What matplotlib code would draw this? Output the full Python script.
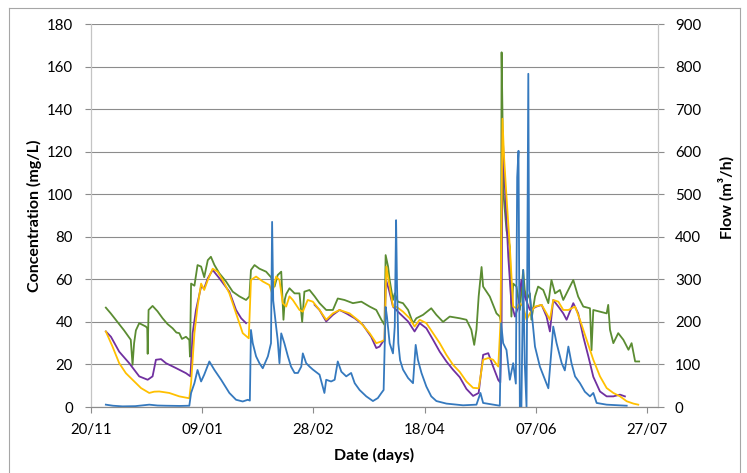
import matplotlib
matplotlib.use('Agg')
import matplotlib.pyplot as plt
import matplotlib.dates as mdates
from matplotlib.lines import Line2D
import numpy as np
import pandas as pd

# day offsets from 20/11 (leap-year season)
START = pd.Timestamp('2011-11-20')

green_days = [6.8, 9, 12, 15, 18, 18.8, 19.5, 20.3, 21.8, 24.8, 25.4, 25.6, 26, 27.8, 30, 32.3, 34.5,
              36.8, 38.5, 39.8, 41, 42.8, 44.3, 44.6, 45.1, 46.6, 48, 49.6, 51, 52.6, 54, 55.6, 57.8,
              60.8, 63.8, 66.8, 69.8, 71.3, 72, 73.6, 75.8, 78.8, 81, 82.6, 84, 85.6, 86.6, 87.2,
              87.8, 89.3, 91.6, 93.8, 95, 96, 98.3, 100.6, 102.8, 105.8, 108.8, 111, 114, 117.8,
              121.6, 125.3, 128.3, 130.6, 132, 132.5, 133.6, 134.3, 135.8, 136.6, 138, 140.3, 142.6,
              144.8, 146.3, 149.3, 153, 155.3, 158.3, 161.3, 165.8, 168.8, 171, 172.3, 173.3, 174.3,
              175.6, 176.3, 179.3, 182.3, 183.8, 184.3, 184.6, 185, 185.3, 186.8, 188.3, 189, 189.8,
              191.3, 192.8, 194.3, 195, 195.8, 197.3, 198, 199.6, 201, 203.3, 205.6, 207, 208.6,
              210.8, 212.3, 213.8, 216.8, 219, 221.3, 224.3, 225, 225.8, 228.8, 231.8, 232.5, 233.3,
              234.8, 237, 239.3, 241.6, 243, 244.6, 246.4]
green_vals = [46.7, 44, 40, 36, 31.6, 19.8, 30, 36, 39.4, 37.8, 37, 25, 45.6, 47.5, 45, 41.7, 39,
              37, 35, 34.7, 32, 33, 31.5, 23.7, 58, 57, 66.7, 66, 61, 69, 70.6, 66.7, 62.8,
              59, 54.2, 52, 50.3, 52, 64.4, 66.7, 65, 63.6, 61, 56.6, 62, 63.6, 41, 50.5,
              53, 55.8, 53.4, 53.4, 40, 54.2, 55, 52, 48.8, 45.6, 45.6, 51, 50.3, 48.8,
              49.5, 47.2, 45.6, 41, 38.6, 71.4, 66, 59.7, 50.3, 53.4, 49.5, 48.8, 45.6,
              39.4, 41.7, 43.3, 46.4, 43.3, 40, 42.5, 41.7, 41, 36.3, 29.2, 36.3, 52,
              65.8, 56.6, 51.9, 44, 42.5, 40, 166.7, 137.8, 101.9, 83, 75.3, 42.5, 58,
              56.6, 45.6, 64.4, 55, 50.3, 53.4, 41, 51.9, 56.6, 55, 48.8, 59.7, 53.4,
              55, 50.3, 53.4, 59.7, 51.9, 47.2, 46.4, 26.7, 45.6, 44.8, 44, 48, 36.3,
              30, 34.7, 31.6, 26.9, 30, 21.4, 21.4]

purple_days = [6.8, 9.1, 12.8, 17.3, 21.8, 25.6, 27.8, 29.3, 31.6, 33.8, 38.3, 42.8, 44.8, 45.8,
               47.3, 49.6, 51, 52.6, 54.8, 57.8, 62.3, 65.3, 67.6, 69.8, 70.5,
               100.6, 102.8, 105.8, 108.8, 111.8, 114.8, 118.6, 122.3, 126, 128.3, 129.8, 131.3,
               132, 132.6, 134, 135.8, 138.8, 142.6, 145.5, 147.8, 150.8, 153.8, 156.8, 159.8,
               162.8, 165.8, 168.8, 171.8, 174.3, 176.3, 178.6, 180.8, 183.1, 184, 184.6, 185,
               185.8, 187.6, 189, 190.6, 192, 193.5, 195, 197.3, 200.3, 202.6, 204.8, 206.3,
               207.8, 210.1, 212.3, 213.8, 216.8, 219, 221.3, 223.6, 225.8, 228.8, 231.8, 234.8,
               237.8, 240]
purple_vals = [35.5, 33, 26, 20.6, 14.4, 12.8, 14.4, 22.2, 22.5, 20.6, 18.3, 15.9, 14.4, 34.7,
               45.6, 56.6, 55.8, 60.5, 64.4, 60.5, 54.2, 45.6, 41.7, 39.4, np.nan,
               48, 45.6, 40.2, 43.3, 45.6, 44, 41.7, 38.6, 33, 27.7, 28.4, 30.8,
               31, 60, 55, 47.2, 44, 40.2, 35.5, 39.4, 37, 31.6, 26, 21.4,
               17.5, 14, 8.5, 5.2, 6.6, 24.5, 25.3, 19, 12.7, 11.5, 40, 130,
               110, 70.6, 48.8, 42.5, 47, 59.7, 52, 45.6, 47.2, 48, 42.5, 35.5,
               50.3, 47.2, 44, 41, 48.8, 44, 33, 23.7, 14.2, 7.3, 5, 5,
               5.8, 5]

yellow_days = [6.8, 9.8, 12.8, 15.8, 18.8, 22.6, 26.3, 28.5, 30.8, 35.3, 39.8, 44.3, 45.1, 46.6,
               48, 49.6, 51, 52.6, 54.8, 57, 59.3, 62.3, 65.3, 68.3, 71, 72, 74.3, 77.3, 80.3,
               81.5, 83.3, 84.8, 86.3, 87.8, 89.3, 90.8, 93.8, 95.3, 97.5, 99.8, 102.8, 105.8,
               108.8, 111.8, 116.3, 120.8, 125.3, 128.3, 130.6, 132, 132.8, 134.3, 135.8, 137.5,
               140.3, 143.3, 145.5, 147.8, 150.8, 153.8, 156.8, 159.8, 162.8, 165.8, 168.8, 171.8,
               174.3, 176.3, 178.6, 180.8, 183.1, 184.1, 185, 185.7, 186.8, 188.3, 189.8, 191.3,
               192.8, 194.3, 195.8, 197.3, 199.6, 202.6, 204.8, 206.3, 207.8, 210.1, 212.3, 214.6,
               217.6, 219.8, 222.8, 225.8, 228.8, 231.8, 234.8, 237.8, 240.8, 243.8, 246]
yellow_vals = [35.5, 28.4, 20.6, 15.9, 12.8, 8.9, 6.6, 7.2, 7.3, 6.6, 5, 4.1, 11.3, 34.7,
               47.2, 58, 55, 59.7, 65, 63.6, 59.7, 53.4, 44, 34.7, 32.3, 59.7, 61.3, 59, 57.3,
               53.4, 61.3, 59.7, 48.8, 47.2, 52, 50.3, 45.6, 44.8, 50.3, 49.5, 45.6, 41,
               44, 45.6, 44, 40.2, 34.7, 30, 30.8, 31.6, 66, 56.6, 47.2, 47,
               44.8, 41.7, 37.8, 41, 39.4, 34.7, 30, 24.5, 19.8, 16.5, 12, 9,
               8.8, 22.2, 23, 22.2, 19, 39.4, 135.5, 117.5, 98.8, 75.3, 47.2, 46.4,
               48.8, 47.2, 41, 44, 47.2, 48, 44, 41, 50.3, 49.5, 45.6, 45.6,
               47.2, 41, 31.6, 22.2, 14.4, 8.9, 6.6, 5, 2.7, 1.6, 1.1]

flow_days = [6.8, 10, 14.3, 20, 26.3, 30, 33.8, 40, 44.3, 45.1, 46.6, 48, 49.6, 51, 53.3, 55.6,
             58.6, 62.3, 65.3, 68.3, 70.6, 71.5, 72, 72.8, 74.3, 75.8, 77.3, 79.6, 81, 81.5, 82,
             83.3, 84, 84.8, 85.6, 87, 88.6, 90, 91.6, 93.1, 94.6, 95.3, 96.8, 98.3, 99.8, 102.8,
             105, 105.8, 108, 109.6, 111, 112.6, 114.8, 117, 118.6, 120.8, 123.8, 126.8, 129,
             130.6, 131.6, 132.5, 133.1, 134.3, 135.8, 136.6, 137.2, 137.6, 138.2, 139, 140.3,
             142.6, 144.8, 146, 147, 148.6, 150.8, 153, 155.3, 159.8, 167.3, 173.3, 175.1, 176.3,
             183.8, 184.4, 185.3, 186.8, 188.3, 189.8, 191, 191.6, 192.2, 192.8, 193.5, 194.3,
             195, 195.8, 196.6, 197, 198, 199.6, 201.8, 204.1, 205.6, 207, 207.8, 209.3, 211.6,
             213, 214.6, 216, 217.6, 219.8, 222, 224.3, 225.8, 227.3, 231.8, 240.8]
flow_vals = [5.5, 3, 1.5, 2, 5.5, 3.5, 3, 2.5, 3, 33, 56, 87, 60, 76, 107, 87,
             64, 33, 17, 13, 17, 15, 181, 150, 119, 103, 91, 119, 150, 435, 250,
             189, 158, 103, 173, 150, 119, 95, 80, 80, 95, 126, 103, 95, 88, 76,
             33, 64, 60, 64, 107, 83, 72, 80, 56, 40, 25, 14, 21,
             33, 40, 235, 212, 150, 126, 189, 439, 290, 150, 110, 88,
             68, 56, 146, 111, 80, 48, 25, 14, 8, 4, 5.5, 33, 9.5,
             3, 197, 150, 134, 64, 103, 55, 540, 602, 0, 0, 322,
             103, 0, 783, 275, 228, 142, 95, 64, 44, 134, 189, 150, 103,
             86, 142, 103, 72, 56, 36, 25, 33, 9.5, 5.5, 3]

conc_ticks = list(range(0, 181, 20))
flow_ticks = list(range(0, 901, 100))
date_ticks = [0, 50, 100, 150, 200, 250]


def to_dates(days):
    return START + pd.to_timedelta(np.asarray(days, dtype=float), unit='D')


plt.rcParams['font.family'] = ['Lato', 'DejaVu Sans']
GRID = '#8c8c8c'
AXIS = '#c4c4c4'

fig = plt.figure(figsize=(7.47, 4.73), dpi=100)
W, H = 747, 473
ax = fig.add_axes([90.7 / W, 1 - 407 / H, (658.3 - 90.7) / W, (407 - 24) / H])
ax2 = ax.twinx()

ax.plot(to_dates(green_days), green_vals, color='#5B8C32', lw=1.3, zorder=2)
ax.plot(to_dates(purple_days), purple_vals, color='#7030A0', lw=1.3, zorder=3)
ax.plot(to_dates(yellow_days), yellow_vals, color='#FFC000', lw=1.3, zorder=4)
ax2.plot(to_dates(flow_days), flow_vals, color='#3579BE', lw=1.3)

ax.set_xlim(START, START + pd.Timedelta(days=255))
ax.set_ylim(0, 180)
ax2.set_ylim(0, 900)
ax.set_yticks(conc_ticks)
ax2.set_yticks(flow_ticks)
ax.set_xticks(to_dates(date_ticks))
ax.xaxis.set_major_formatter(mdates.DateFormatter('%d/%m'))

ax.yaxis.grid(True, color=GRID, lw=0.8)
ax.set_axisbelow(True)
for a in (ax, ax2):
    a.spines['top'].set_visible(False)
    a.spines['left'].set_color(AXIS)
    a.spines['right'].set_color(AXIS)
    a.spines['bottom'].set_color(GRID)

ax.tick_params(axis='y', direction='out', length=4.3, color=GRID, labelsize=10.8, pad=8.5,
               labelcolor='black')
ax2.tick_params(axis='y', direction='out', length=4.0, color=GRID, labelsize=10.8, pad=8,
                labelcolor='black')
ax.tick_params(axis='x', direction='out', length=4.3, color=GRID, labelsize=10.8, pad=7)

fig.text(34.7 / W, 1 - 216 / H, 'Concentration (mg/L)', rotation=90, fontsize=11.5,
         fontweight='bold', ha='center', va='center')
fig.text(726 / W, 1 - 197 / H, 'Flow (m\u00b3/h)', rotation=90, fontsize=11.5,
         fontweight='bold', ha='center', va='center')
fig.text(374.5 / W, 1 - 455 / H, 'Date (days)', fontsize=11.5, fontweight='bold',
         ha='center', va='center')

# chart area frame
for xs, ys in [((9.3, 9.3), (0, 7.7)), ((9.3, 739.5), (7.7, 7.7)),
               ((739.5, 739.5), (7.7, 0)), ((2.7, 2.7), (0, 473))]:
    fig.add_artist(Line2D([x / W for x in xs], [1 - y / H if y else 0 for y in ys],
                          color='#a6a6a6', lw=0.8))

fig.savefig('out.png', dpi=100)
